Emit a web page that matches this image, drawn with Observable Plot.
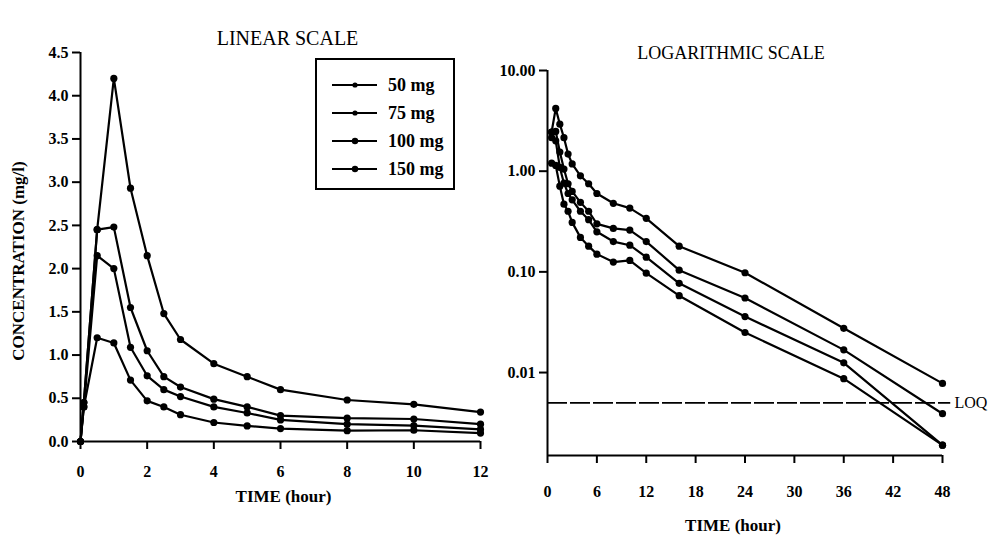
<!DOCTYPE html>
<html>
<head>
<meta charset="utf-8">
<script src="https://cdn.jsdelivr.net/npm/d3@7"></script>
<script src="https://cdn.jsdelivr.net/npm/@observablehq/plot@0.6"></script>
<style>
  body { margin: 0; background: #fff; }
  #chart { position: relative; width: 993px; height: 546px; overflow: hidden;
           font-family: "Liberation Serif", "DejaVu Serif", serif; color: #000; }
  #chart > svg { position: absolute; top: 0; }
  #chart [aria-label="x-axis tick"], #chart [aria-label="y-axis tick"] { stroke-width: 2; }
  .legend { position: absolute; left: 315px; top: 58px; width: 136px; height: 128px;
            border: 2px solid #000; font-weight: bold; font-size: 18px; }
  .legend .row { position: absolute; left: 15px; height: 22px; display: flex; align-items: center; }
  .legend .row span { margin-left: 11px; }
</style>
</head>
<body>
<div id="chart"></div>
<script>
// Sampling times (hour) and mean plasma concentrations (mg/l) per dose
const hours   = [0, 0.1, 0.5, 1, 1.5, 2, 2.5, 3, 4, 5, 6, 8, 10, 12, 16, 24, 36, 48];
const conc50  = [0, 0.40, 1.20, 1.14, 0.71, 0.47, 0.40, 0.31, 0.22, 0.18, 0.15, 0.125, 0.13, 0.097, 0.058, 0.025, 0.0087, 0.0019];
const conc75  = [0, 0.40, 2.15, 2.00, 1.09, 0.76, 0.60, 0.52, 0.40, 0.33, 0.25, 0.20, 0.184, 0.14, 0.077, 0.036, 0.0125, 0.0019];
const conc100 = [0, 0.45, 2.45, 2.48, 1.55, 1.05, 0.75, 0.63, 0.49, 0.40, 0.30, 0.27, 0.26, 0.20, 0.104, 0.055, 0.0168, 0.0039];
const conc150 = [0, 0.45, 2.45, 4.20, 2.93, 2.15, 1.48, 1.18, 0.90, 0.75, 0.60, 0.48, 0.43, 0.34, 0.18, 0.098, 0.0275, 0.0078];
const doses   = ["50 mg", "75 mg", "100 mg", "150 mg"];
const series  = [conc50, conc75, conc100, conc150];

// Axis ticks
const linearXTicks = [0, 2, 4, 6, 8, 10, 12];
const linearYTicks = [0, 0.5, 1, 1.5, 2, 2.5, 3, 3.5, 4, 4.5];
const logXTicks    = [0, 6, 12, 18, 24, 30, 36, 42, 48];
const logYTicks    = [10, 1, 0.1, 0.01];

// Limit of quantification (mg/l) and bottom of the log axis
const loq = 0.005;
const logFloor = 0.0015;

const rows = series.flatMap((vals, i) =>
  hours.map((h, j) => ({dose: doses[i], hour: h, conc: vals[j]})));
const linearRows = rows.filter(d => d.hour <= 12);
const logRows = rows.filter(d => d.hour >= 0.5);

const baseStyle = {
  fontFamily: '"Liberation Serif", "DejaVu Serif", serif',
  fontSize: "16px", fontWeight: "bold", color: "#000",
  background: "transparent", overflow: "visible"
};

const linear = Plot.plot({
  width: 500, height: 546,
  marginLeft: 80, marginRight: 20, marginTop: 52, marginBottom: 105,
  style: baseStyle,
  x: {domain: [0, 12], ticks: linearXTicks, tickSize: 8, tickPadding: 16, label: null},
  y: {domain: [0, 4.5], ticks: linearYTicks, tickFormat: d3.format(".1f"),
      tickSize: 8, tickPadding: 4, label: null},
  marks: [
    Plot.ruleX([0], {strokeWidth: 2}),
    Plot.ruleY([0], {strokeWidth: 2}),
    Plot.line(linearRows, {x: "hour", y: "conc", z: "dose", stroke: "#000", strokeWidth: 2.2}),
    Plot.dot(linearRows, {x: "hour", y: "conc", fill: "#000", r: 3.6}),
    Plot.text(["LINEAR SCALE"], {frameAnchor: "top", dy: -22, dx: 7, fontSize: 20, fontWeight: "normal"}),
    Plot.text(["TIME (hour)"], {frameAnchor: "bottom", dy: 60, dx: 3, fontSize: 17}),
    Plot.text(["CONCENTRATION (mg/l)"], {frameAnchor: "left", textAnchor: "middle", dx: -62, dy: 14, rotate: -90, fontSize: 17})
  ]
});
linear.style.left = "0px";

const logarithmic = Plot.plot({
  width: 500, height: 546,
  marginLeft: 54, marginRight: 51, marginTop: 70, marginBottom: 91,
  style: baseStyle,
  x: {domain: [0, 48], ticks: logXTicks, tickSize: 8, tickPadding: 22, label: null},
  y: {type: "log", domain: [logFloor, 10], ticks: logYTicks, tickFormat: d3.format(".2f"),
      tickSize: 8, tickPadding: 4, label: null},
  marks: [
    Plot.ruleX([0], {strokeWidth: 2}),
    Plot.ruleY([logFloor], {strokeWidth: 2}),
    Plot.ruleY([loq], {x1: 0, x2: 49, strokeWidth: 1.6, strokeDasharray: "20,3"}),
    Plot.text(["LOQ"], {x: 48, y: loq, dx: 12, textAnchor: "start", fontSize: 16, fontWeight: "normal"}),
    Plot.line(logRows, {x: "hour", y: "conc", z: "dose", stroke: "#000", strokeWidth: 2.2}),
    Plot.dot(logRows, {x: "hour", y: "conc", fill: "#000", r: 3.6}),
    Plot.text(["LOGARITHMIC SCALE"], {frameAnchor: "top", dy: -24, dx: -14, fontSize: 18, fontWeight: "normal"}),
    Plot.text(["TIME (hour)"], {frameAnchor: "bottom", dy: 75, dx: -12, fontSize: 17})
  ]
});
logarithmic.style.left = "493px";

const chart = document.getElementById("chart");
chart.append(linear, logarithmic);

// Legend box: line swatch with marker, then dose label
const legend = document.createElement("div");
legend.className = "legend";
doses.forEach((d, i) => {
  const row = document.createElement("div");
  row.className = "row";
  row.style.top = (14 + i * 28) + "px";
  row.innerHTML = `<svg width="45" height="10"><line x1="0" y1="5" x2="45" y2="5" stroke="#000" stroke-width="2"/>` +
    `<circle cx="23" cy="5" r="${i < 2 ? 2.6 : 3.2}" fill="#000"/></svg><span>${d}</span>`;
  legend.append(row);
});
chart.append(legend);
</script>
</body>
</html>
